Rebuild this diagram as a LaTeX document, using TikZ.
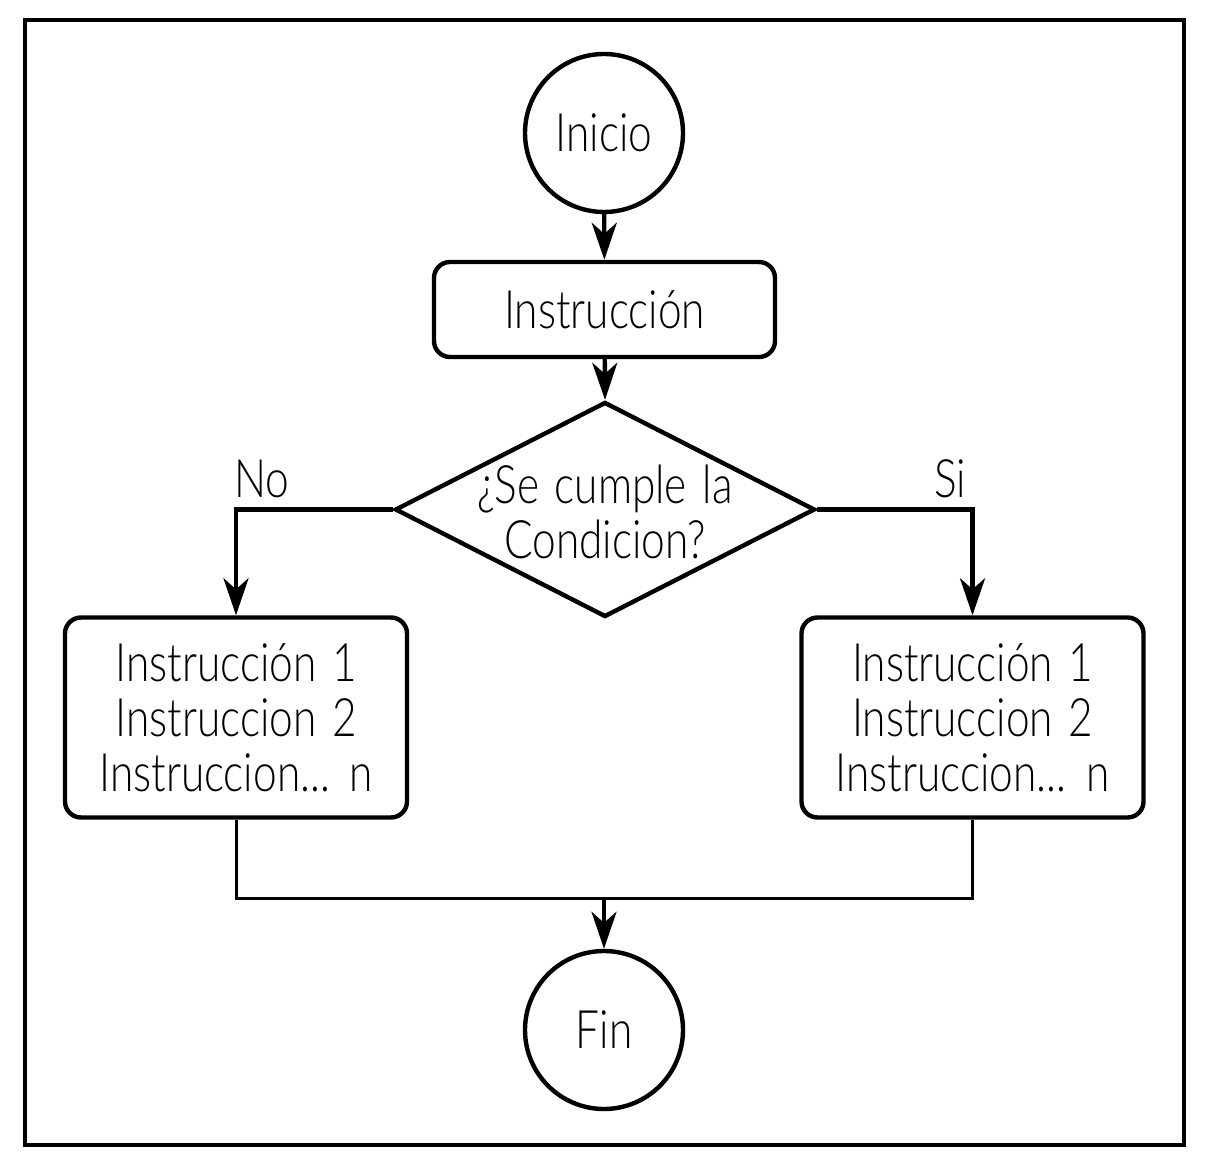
\documentclass[tikz,border=0pt]{standalone}
\usepackage{fontspec}
\setmainfont{Lato Light}[FakeStretch=0.8,WordSpace=1.35]
\usetikzlibrary{shapes.geometric,arrows.meta}
\begin{document}
\begin{tikzpicture}[x=0.5pt,y=-0.5pt,
  every node/.style={font=\fontsize{26.5pt}{27.5pt}\selectfont, inner sep=0pt},
  thickline/.style={line width=2.2pt},
  thinline/.style={line width=1.5pt},
  term/.style={circle, draw, thickline, minimum size=79pt},
  proc/.style={rectangle, rounded corners=8pt, draw, thickline, align=center},
  dec/.style={diamond, draw, thickline, minimum width=210pt, minimum height=107.5pt},
  lbl/.style={anchor=base},
  arr/.style={thickline, -{Stealth[length=18.5pt,width=12.5pt,inset=5.5pt]}}
]
\useasboundingbox (0,0) rectangle (1209,1165);
\draw[thickline] (25,20) rectangle (1184,1145);

\node[term] (inicio) at (604,133) {Inicio};
\node[proc, minimum width=170.5pt, minimum height=47.5pt] (instr) at (604.5,309.5) {Instrucción};
\node[dec] (cond) at (605,509.5) {};
\node[align=center] (condtext) at (605,512) {¿Se cumple la\\Condicion?};
\node[proc, minimum width=171pt, minimum height=100pt] (lbox) at (236,717.5)
  {Instrucción 1\\Instruccion 2\\Instruccion... n};
\node[proc, minimum width=171pt, minimum height=100pt] (rbox) at (972.5,717.5)
  {Instrucción 1\\Instruccion 2\\Instruccion... n};
\node[term] (fin) at (604,1030) {Fin};

\node[lbl] (no) at (262,497) {No};
\node[lbl] (si) at (950,497) {Si};

\coordinate (mC) at (604,898);

\draw[arr] (inicio) -- (instr);
\draw[arr] (instr) -- (cond.north);
\draw[arr] (cond.west) -| (lbox.north);
\draw[arr] (cond.east) -| (rbox.north);
\draw[thinline] (lbox.south) -- (lbox.south |- mC) -- (rbox.south |- mC) -- (rbox.south);
\draw[arr] (mC) -- (fin.north);
\end{tikzpicture}
\end{document}
